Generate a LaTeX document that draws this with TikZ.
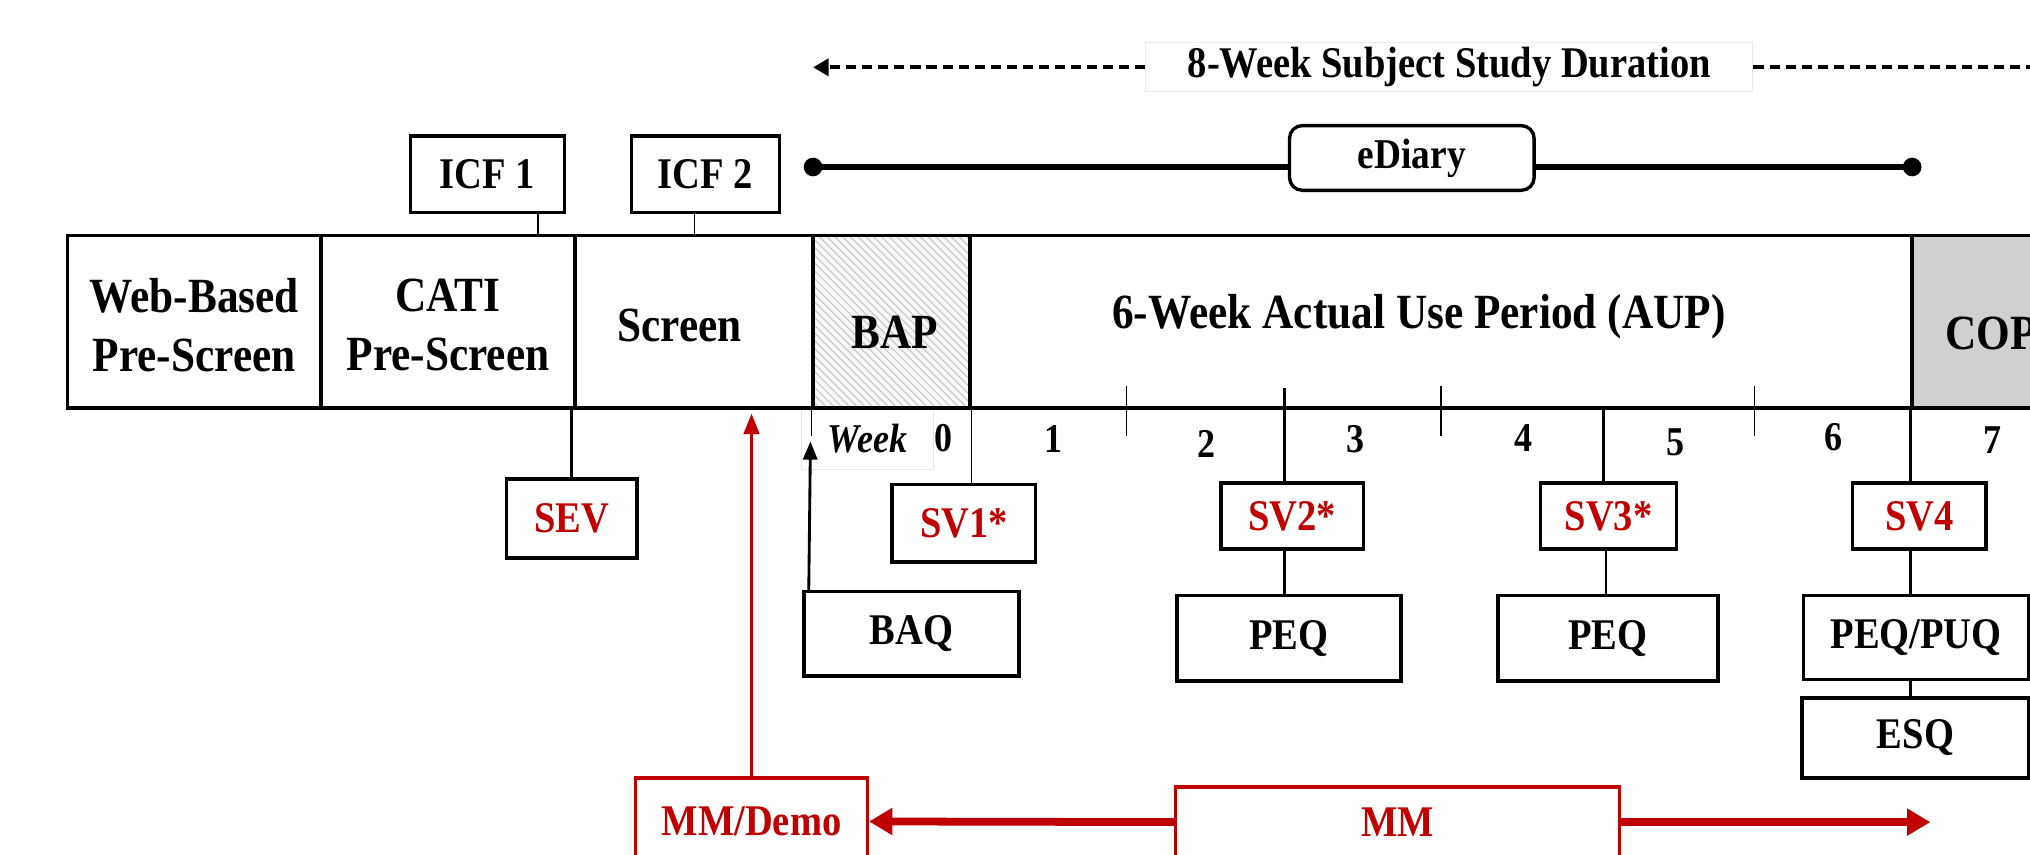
\documentclass[tikz,border=0pt]{standalone}
\usepackage{fontspec}
\setmainfont{Liberation Serif}[FakeStretch=0.88]
\usetikzlibrary{arrows.meta,patterns,calc}
\definecolor{myred}{RGB}{192,0,0}
\definecolor{copgray}{RGB}{208,208,210}
\newcommand{\bnode}[7]{%
 \pgfmathsetmacro{\mybw}{((#4)-(#2))*0.5}%
 \pgfmathsetmacro{\mybh}{((#5)-(#3))*0.5}%
 \pgfmathsetmacro{\mycx}{((#2)+(#4))/2}%
 \pgfmathsetmacro{\mycy}{((#3)+(#5))/2}%
 \node[#6, minimum width=\mybw pt, minimum height=\mybh pt] (#1) at (\mycx,\mycy) {#7};}
\begin{document}
\begin{tikzpicture}[x=0.5pt,y=-0.5pt,
  cell/.style={draw, line width=1.4pt, inner sep=0pt},
  bx/.style={draw, line width=1.3pt, fill=white, inner sep=0pt, font=\fontsize{16.9}{19}\selectfont\bfseries},
  rbx/.style={bx, draw=myred, text=myred},
  svbx/.style={bx, text=myred},
  bigtxt/.style={font=\fontsize{19}{23}\selectfont\bfseries, align=center, inner sep=0pt},
  wk/.style={font=\fontsize{15.8}{18}\selectfont\bfseries, inner sep=0pt},
  thinln/.style={line width=0.5pt},
  medln/.style={line width=1.1pt},
  durln/.style={line width=1.5pt, dash pattern=on 3.9pt off 2.3pt},
  redthick/.style={line width=3pt, myred, -{Triangle[length=9pt,width=10pt]}},
]
\useasboundingbox (0,0) rectangle (1568,660);
\clip (0,0) rectangle (1568,660);

% week label box
\bnode{weekbox}{619}{314}{721}{363}{draw=black!10, line width=0.4pt, fill=white, inner sep=0pt, font=\fontsize{15.8}{18}\selectfont\bfseries\itshape}{Week}

% main bar
\bnode{web}{52}{182}{248}{315}{cell}{}
\bnode{cati}{248}{182}{444}{315}{cell}{}
\bnode{scr}{444}{182}{628}{315}{cell}{}
\bnode{bap}{628}{182}{749}{315}{cell, preaction={fill=gray!6}, pattern=north west lines, pattern color=gray!45}{}
\bnode{aup}{749}{182}{1477}{315}{cell}{}
\bnode{cop}{1477}{182}{1720}{315}{cell, fill=copgray}{}

\node[bigtxt] (tweb) at (150,251) {Web-Based\\Pre-Screen};
\node[bigtxt] (tcati) at (346,251) {CATI\\Pre-Screen};
\node[bigtxt] (tscr) at (525,251) {Screen};
\node[bigtxt] (tbap) at (691,257) {BAP};
\node[bigtxt, anchor=base] (taup) at (1096,254) {6-Week Actual Use Period (AUP)};
\node[bigtxt, anchor=base west] (tcop) at (1502,270) {COP};

% ticks
\foreach \tx in {870,1113,1355} \draw[thinln] (\tx,298) -- (\tx,337);
\draw[thinln] (bap.south west) -- ++(0,20);

% week numbers
\node[wk] (w0) at (729,338) {0};
\node[wk] (w1) at (814,339) {1};
\node[wk] (w2) at (932,343) {2};
\node[wk] (w3) at (1047,339) {3};
\node[wk] (w4) at (1177,338) {4};
\node[wk] (w5) at (1294,342) {5};
\node[wk] (w6) at (1416,338) {6};
\node[wk] (w7) at (1539,340) {7};

% duration
\bnode{dur}{885}{33}{1354}{71}{draw=black!8, line width=0.4pt, fill=white, inner sep=0pt, font=\fontsize{16.9}{19}\selectfont\bfseries}{8-Week Subject Study Duration}
\coordinate (dl) at (628,52);
\coordinate (dr) at (1720,52);
\draw[durln, -{Triangle[length=6pt,width=6.5pt]}] (dur.west) -- (dl);
\draw[durln] (dur.east) -- (dr);

% eDiary
\coordinate (ed1) at (628,129);
\coordinate (ed2) at (1477,129);
\draw[line width=2.5pt] (ed1) -- (ed2);
\fill (ed1) circle[radius=3.6pt];
\fill (ed2) circle[radius=3.6pt];
\bnode{ediary}{996}{97}{1185}{147}{bx, rounded corners=5pt, font=\fontsize{16.4}{19}\selectfont\bfseries}{eDiary}

% boxes
\bnode{icf1}{317}{105}{436}{164}{bx}{ICF 1}
\bnode{icf2}{488}{105}{602}{164}{bx}{ICF 2}
\bnode{sev}{391}{370}{492}{431}{svbx}{SEV}
\bnode{sv1}{689}{374}{800}{434}{svbx}{SV1*}
\bnode{sv2}{943}{373}{1053}{424}{svbx}{SV2*}
\bnode{sv3}{1190}{373}{1295}{424}{svbx}{SV3*}
\bnode{sv4}{1431}{373}{1534}{424}{svbx}{SV4}
\bnode{baq}{621}{457}{787}{522}{bx}{BAQ}
\bnode{peqa}{909}{460}{1082}{526}{bx}{PEQ}
\bnode{peqb}{1157}{460}{1327}{526}{bx}{PEQ}
\bnode{pqpu}{1393}{460}{1567}{525}{bx}{PEQ/PUQ}
\bnode{esq}{1392}{539}{1567}{601}{bx}{ESQ}
\bnode{mmdemo}{491}{601}{670}{668}{rbx}{MM/Demo}
\bnode{mm}{908}{608}{1251}{662}{rbx}{MM}

% connectors
\draw[thinln] ([xshift=19.5pt]icf1.south) -- ([xshift=19.5pt]icf1.south |- cati.north);
\draw[thinln] ([xshift=-4.25pt]icf2.south) -- ([xshift=-4.25pt]icf2.south |- scr.north);
\draw[medln] (sev.north) -- (sev.north |- cati.south);
\draw[thinln] (bap.south east) -- (bap.south east |- sv1.north);
\coordinate (t2) at (992,300);
\draw[medln] (t2) -- (t2 |- sv2.north);
\draw[medln] (t2 |- sv2.south) -- (t2 |- peqa.north);
\draw[medln] ([xshift=-2pt]sv3.north) -- ([xshift=-2pt]sv3.north |- aup.south);
\draw[medln] ([xshift=-1pt]sv3.south) -- ([xshift=-1pt]sv3.south |- peqb.north);
\draw[medln] (cop.south west) -- (cop.south west |- sv4.north);
\draw[medln] (cop.south west |- sv4.south) -- (cop.south west |- pqpu.north);
\draw[medln] (cop.south west |- pqpu.south) -- (cop.south west |- esq.north);

% arrows
\coordinate (wkarr) at (626,341);
\draw[line width=1.1pt, -{Triangle[length=7pt,width=5.5pt]}] ([xshift=2.5pt]baq.north west) -- (wkarr);
\draw[line width=1.3pt, myred, shorten >=1.5pt, -{Triangle[length=8pt,width=6pt]}] (mmdemo.north) -- (mmdemo.north |- scr.south);
\coordinate (mmend) at (1491,635);
\draw[redthick] (mm.west) -- (mmdemo.east);
\draw[redthick] (mm.east) -- (mmend);
\end{tikzpicture}
\end{document}
